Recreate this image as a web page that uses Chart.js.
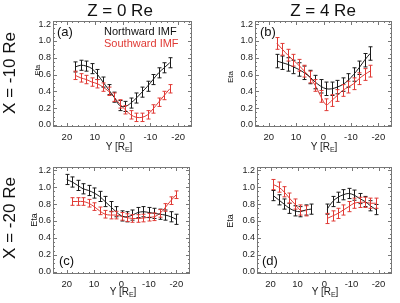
<!DOCTYPE html>
<html lang="en">
<head>
<meta charset="UTF-8">
<title>Eta vs Y</title>
<script src="https://cdn.jsdelivr.net/npm/chart.js"></script>
<style>
  body { margin: 0; background: #fff; font-family: 'Liberation Sans', Arial, sans-serif; }
  #wrap { position: relative; width: 400px; height: 303px; overflow: hidden; }
  canvas { position: absolute; }
  .lbl { position: absolute; white-space: nowrap; line-height: 1; color: #111; }
  .rot { transform: translate(-50%, -50%) rotate(-90deg); }
  .ctr { transform: translateX(-50%); }
  .big { font-size: 17px; }
  .leg { font-size: 11px; }
  .tag { font-size: 13px; }
  .xt { font-size: 10px; color: #222; }
  .xt sub { font-size: 7px; vertical-align: -2px; line-height: 0; }
  .red { color: #e03a35; }
</style>
</head>
<body>
<div id="wrap">
  <canvas id="pa" style="left:0;top:0" width="200" height="151"></canvas>
  <canvas id="pb" style="left:200px;top:0" width="200" height="151"></canvas>
  <canvas id="pc" style="left:0;top:151px" width="200" height="152"></canvas>
  <canvas id="pd" style="left:200px;top:151px" width="200" height="152"></canvas>

  <div class="lbl big ctr" style="left:120px;top:2px">Z = 0 Re</div>
  <div class="lbl big ctr" style="left:323px;top:2px">Z = 4 Re</div>
  <div class="lbl big rot" style="left:9px;top:73px">X = -10 Re</div>
  <div class="lbl big rot" style="left:9px;top:218px">X = -20 Re</div>

  <div class="lbl rot" style="left:37px;top:70px;font-size:7px">Eta</div>
  <div class="lbl rot" style="left:231px;top:77px;font-size:8px">Eta</div>
  <div class="lbl rot" style="left:34px;top:220px;font-size:9px">Eta</div>
  <div class="lbl rot" style="left:230px;top:221px;font-size:9px">Eta</div>

  <div class="lbl tag" style="left:57px;top:25px">(a)</div>
  <div class="lbl tag" style="left:260px;top:25px">(b)</div>
  <div class="lbl tag" style="left:59px;top:254px">(c)</div>
  <div class="lbl tag" style="left:262px;top:254px">(d)</div>

  <div class="lbl leg" style="left:104px;top:26px">Northward IMF</div>
  <div class="lbl leg red" style="left:104px;top:38px">Southward IMF</div>

  <div class="lbl xt ctr" style="left:119px;top:142px">Y [R<sub>E</sub>]</div>
  <div class="lbl xt ctr" style="left:324px;top:142px">Y [R<sub>E</sub>]</div>
  <div class="lbl xt ctr" style="left:123px;top:287px">Y [R<sub>E</sub>]</div>
  <div class="lbl xt ctr" style="left:325px;top:287px">Y [R<sub>E</sub>]</div>
</div>
<script>
  // tick labels
  const xTicks = [20, 10, 0, -10, -20];
  const yTicks = [0, 0.2, 0.4, 0.6, 0.8, 1.0, 1.2];

  // (a) X = -10 Re, Z = 0 Re
  const posA = [17, 15, 13, 11, 9, 7, 5, 3, 1, -1, -3, -5, -7, -9, -11, -13, -15, -17];
  const northA = [0.69, 0.71, 0.70, 0.67, 0.60, 0.51, 0.42, 0.33, 0.23, 0.22, 0.26, 0.32, 0.39, 0.46, 0.54, 0.62, 0.68, 0.74];
  const southA = [0.59, 0.56, 0.54, 0.51, 0.49, 0.45, 0.40, 0.33, 0.25, 0.18, 0.12, 0.09, 0.09, 0.12, 0.19, 0.27, 0.35, 0.43];
  const errNorthA = 0.06, errSouthA = 0.05;

  // (b) X = -10 Re, Z = 4 Re
  const posB = [17, 15, 13, 11, 9, 7, 5, 3, 1, -1, -3, -5, -7, -9, -11, -13, -15, -17];
  const northB = [0.76, 0.74, 0.72, 0.69, 0.66, 0.62, 0.57, 0.51, 0.46, 0.43, 0.43, 0.45, 0.48, 0.53, 0.60, 0.68, 0.77, 0.85];
  const southB = [0.97, 0.90, 0.83, 0.77, 0.71, 0.64, 0.57, 0.47, 0.34, 0.24, 0.29, 0.35, 0.41, 0.45, 0.49, 0.55, 0.60, 0.64];
  const errNorthB = 0.08, errSouthB = 0.07;

  // (c) X = -20 Re, Z = 0 Re
  const posNorthC = [20, 18, 16, 14, 12, 10, 8, 6, 4, 2, 0, -2, -4, -6, -8, -10, -12, -14, -16, -18, -20];
  const northC = [1.09, 1.06, 1.02, 0.98, 0.96, 0.93, 0.89, 0.83, 0.77, 0.71, 0.66, 0.65, 0.67, 0.70, 0.71, 0.70, 0.69, 0.68, 0.67, 0.65, 0.62];
  const posSouthC = [18, 16, 14, 12, 10, 8, 6, 4, 2, 0, -2, -4, -6, -8, -10, -12, -14, -16, -18, -20];
  const southC = [0.83, 0.83, 0.83, 0.81, 0.77, 0.72, 0.68, 0.67, 0.67, 0.655, 0.64, 0.63, 0.63, 0.635, 0.645, 0.65, 0.69, 0.76, 0.84, 0.91];
  const errNorthC = 0.06, errSouthC = 0.045;

  // (d) X = -20 Re, Z = 4 Re (gaps near Y = 0)
  const posD = [19, 17, 15, 13, 11, 9, 7, 5, 3, 1, -1, -3, -5, -7, -9, -11, -13, -15, -17, -19];
  const northD = [0.90, 0.85, 0.80, 0.75, 0.72, 0.71, 0.73, 0.74, null, null, 0.74, 0.83, 0.88, 0.91, 0.925, 0.905, 0.865, 0.83, 0.78, 0.735];
  const southD = [1.03, 1.00, 0.945, 0.87, 0.80, 0.73, 0.72, null, null, null, 0.63, 0.66, 0.69, 0.73, 0.77, 0.81, 0.82, 0.82, 0.81, 0.81];
  const errNorthD = 0.06, errSouthD = 0.06;

  const BLACK = '#1a1a1a', RED = '#e03a35';
  const FONT = "'Liberation Sans', Arial, sans-serif";

  // vertical error bars with small caps
  const errorBars = {
    id: 'errorBars',
    afterDatasetsDraw(chart) {
      const { ctx, scales: { y } } = chart;
      chart.data.datasets.forEach((ds, i) => {
        const meta = chart.getDatasetMeta(i);
        ctx.save();
        ctx.strokeStyle = ds.borderColor;
        ctx.lineWidth = 1;
        ctx.beginPath();
        meta.data.forEach((pt, j) => {
          const v = ds.data[j].y;
          if (v == null) return;
          const top = y.getPixelForValue(v + ds.err);
          const bot = y.getPixelForValue(v - ds.err);
          const px = Math.round(pt.x) + 0.5;
          ctx.moveTo(px, top); ctx.lineTo(px, bot);
          ctx.moveTo(px - 2, top); ctx.lineTo(px + 2, top);
          ctx.moveTo(px - 2, bot); ctx.lineTo(px + 2, bot);
        });
        ctx.stroke();
        ctx.restore();
      });
    }
  };

  // box around the plot with inward major/minor ticks
  const frame = {
    id: 'frame',
    afterDraw(chart) {
      const { ctx, chartArea: a, scales: { x, y } } = chart;
      ctx.save();
      ctx.strokeStyle = '#777';
      ctx.lineWidth = 1;
      ctx.strokeRect(a.left + 0.5, a.top + 0.5, a.right - a.left - 1, a.bottom - a.top - 1);
      ctx.beginPath();
      for (let v = -24; v <= 24; v += 2) {
        const px = Math.round(x.getPixelForValue(v)) + 0.5;
        const len = v % 10 === 0 ? 4 : 2;
        ctx.moveTo(px, a.bottom); ctx.lineTo(px, a.bottom - len);
        ctx.moveTo(px, a.top); ctx.lineTo(px, a.top + len);
      }
      for (let k = 0; k <= 24; k++) {
        const v = k * 0.05;
        const py = Math.round(y.getPixelForValue(v)) + 0.5;
        const len = k % 4 === 0 ? 4 : 2;
        ctx.moveTo(a.left, py); ctx.lineTo(a.left + len, py);
        ctx.moveTo(a.right, py); ctx.lineTo(a.right - len, py);
      }
      ctx.stroke();
      ctx.restore();
    }
  };

  function series(pos, vals, err, color) {
    return {
      data: pos.map((p, i) => ({ x: p, y: vals[i] })),
      err: err,
      borderColor: color,
      borderWidth: 1,
      pointRadius: 0,
      tension: 0.35,
      spanGaps: false,
      fill: false
    };
  }

  function panel(id, area, canvasH, datasets) {
    new Chart(document.getElementById(id), {
      type: 'line',
      data: { datasets: datasets },
      plugins: [errorBars, frame],
      options: {
        responsive: false,
        animation: false,
        layout: { padding: { left: 20, right: 200 - area.r, top: area.t, bottom: 0 } },
        plugins: { legend: { display: false }, tooltip: { enabled: false } },
        scales: {
          x: {
            type: 'linear', reverse: true, min: -25, max: 25,
            afterBuildTicks: s => { s.ticks = xTicks.map(v => ({ value: v })); },
            afterFit: s => { s.height = canvasH - area.b; },
            grid: { display: false, drawTicks: false },
            border: { display: false },
            ticks: { padding: 5, color: '#222', font: { family: FONT, size: 9.5 }, maxRotation: 0 }
          },
          y: {
            type: 'linear', min: -0.025, max: 1.237,
            afterBuildTicks: s => { s.ticks = yTicks.map(v => ({ value: v })); },
            afterFit: s => { s.width = area.l - 20; },
            grid: { display: false, drawTicks: false },
            border: { display: false },
            ticks: { padding: 2, color: '#222', font: { family: FONT, size: 9 }, callback: v => v.toFixed(1) }
          }
        }
      }
    });
  }

  panel('pa', { l: 53, r: 192, t: 21, b: 127 }, 151, [
    series(posA, northA, errNorthA, BLACK),
    series(posA, southA, errSouthA, RED)
  ]);
  panel('pb', { l: 55, r: 192, t: 21, b: 127 }, 151, [
    series(posB, northB, errNorthB, BLACK),
    series(posB, southB, errSouthB, RED)
  ]);
  panel('pc', { l: 53, r: 190, t: 16, b: 123 }, 152, [
    series(posNorthC, northC, errNorthC, BLACK),
    series(posSouthC, southC, errSouthC, RED)
  ]);
  panel('pd', { l: 57, r: 192, t: 16, b: 123 }, 152, [
    series(posD, northD, errNorthD, BLACK),
    series(posD, southD, errSouthD, RED)
  ]);
</script>
</body>
</html>
